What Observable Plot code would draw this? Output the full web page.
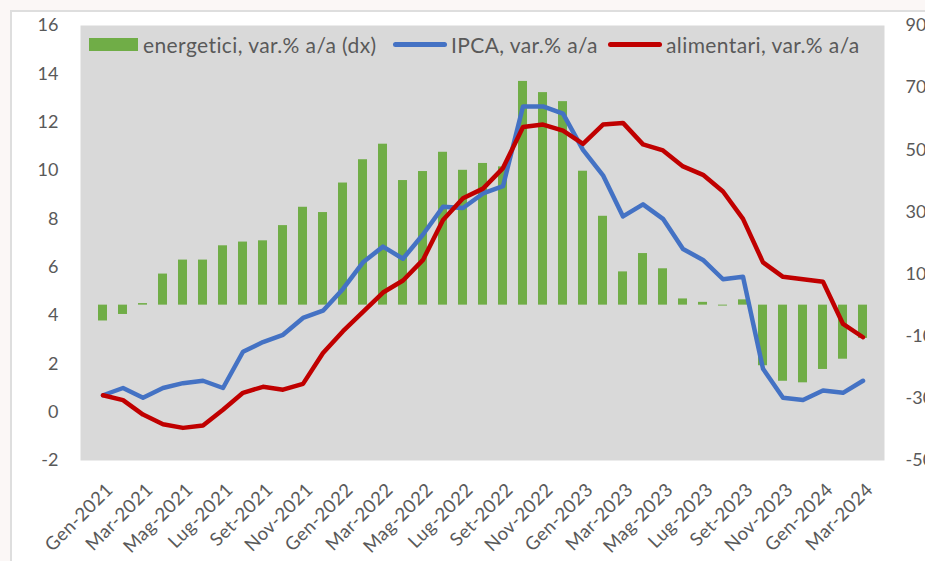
<!DOCTYPE html>
<html>
<head>
<meta charset="utf-8">
<script src="https://cdn.jsdelivr.net/npm/d3@7"></script>
<script src="https://cdn.jsdelivr.net/npm/@observablehq/plot@0.6"></script>
<style>
  html, body { margin: 0; padding: 0; background: #fbf7f6; overflow: hidden; }
  #wrap { position: relative; width: 925px; height: 561px; overflow: hidden; }
  #box { position: absolute; left: 10px; top: 10px; width: 1000px; height: 700px; background: #fff;
         border-top: 2px solid #dedede; border-left: 2px solid #dedede; }
  #chart { position: absolute; left: 0; top: 0; }
  #chart g[aria-label="x-axis tick label"] text { letter-spacing: 0.5px; }
  .lg { position: absolute; font-family: Lato, "Open Sans", sans-serif; font-size: 21px; letter-spacing: 0.4px; color: #595959; white-space: nowrap; line-height: 1; }
  .sw { position: absolute; }
</style>
</head>
<body>
<div id="wrap">
  <div id="box"></div>
  <div id="chart"></div>
  <div id="legend"></div>
</div>
<script>
// ---- data ----
const months = [
  "Gen-2021","Feb-2021","Mar-2021","Apr-2021","Mag-2021","Giu-2021","Lug-2021","Ago-2021","Set-2021","Ott-2021","Nov-2021","Dic-2021",
  "Gen-2022","Feb-2022","Mar-2022","Apr-2022","Mag-2022","Giu-2022","Lug-2022","Ago-2022","Set-2022","Ott-2022","Nov-2022","Dic-2022",
  "Gen-2023","Feb-2023","Mar-2023","Apr-2023","Mag-2023","Giu-2023","Lug-2023","Ago-2023","Set-2023","Ott-2023","Nov-2023","Dic-2023",
  "Gen-2024","Feb-2024","Mar-2024"
];
// IPCA, var.% a/a (left axis)
const ipca = [
  0.7, 1.0, 0.6, 1.0, 1.2, 1.3, 1.0, 2.5, 2.9, 3.2, 3.9, 4.2,
  5.1, 6.2, 6.85, 6.35, 7.35, 8.5, 8.45, 9.05, 9.35, 12.65, 12.65, 12.35,
  10.85, 9.8, 8.1, 8.6, 8.0, 6.75, 6.3, 5.5, 5.6, 1.8, 0.6, 0.5,
  0.9, 0.8, 1.3
];
// alimentari, var.% a/a (left axis)
const alimentari = [
  0.7, 0.5, -0.1, -0.5, -0.65, -0.55, 0.1, 0.8, 1.05, 0.93, 1.17, 2.45,
  3.35, 4.15, 4.95, 5.45, 6.3, 7.95, 8.85, 9.25, 10.1, 11.8, 11.9, 11.65,
  11.1, 11.9, 11.97, 11.08, 10.83, 10.17, 9.82, 9.13, 8.0, 6.2, 5.6, 5.5,
  5.4, 3.65, 3.1
];
// energetici, var.% a/a (right axis, dx)
const energetici = [
  -5.1, -3.0, 0.5, 10.0, 14.5, 14.5, 19.1, 20.3, 20.7, 25.6, 31.5, 29.8,
  39.3, 46.8, 51.8, 40.1, 43.0, 49.2, 43.4, 45.6, 44.5, 72.0, 68.4, 65.5,
  43.1, 28.6, 10.7, 16.6, 11.7, 2.0, 0.9, -0.3, 1.7, -19.5, -24.5, -25.0,
  -20.7, -17.4, -10.7
];
const leftTicks = [-2, 0, 2, 4, 6, 8, 10, 12, 14, 16];
const rightTicks = [-50, -30, -10, 10, 30, 50, 70, 90];
const xTickLabels = months.filter((m, i) => i % 2 === 0);

// ---- dual-axis mapping ----
const L0 = -2, L1 = 16, R0 = -50, R1 = 90;
const toLeft = v => L0 + (v - R0) * (L1 - L0) / (R1 - R0);
const toRight = v => R0 + (v - L0) * (R1 - R0) / (L1 - L0);
const base = toLeft(0);

const data = months.map((m, i) => ({ m, ipca: ipca[i], alim: alimentari[i], en: energetici[i] }));

const textColor = "#595959";
const chart = Plot.plot({
  width: 925,
  height: 561,
  marginLeft: 80,
  marginRight: 41,
  marginTop: 25,
  marginBottom: 101,
  style: { background: "transparent", fontFamily: "Lato, 'Open Sans', sans-serif", fontSize: "18px", color: textColor, overflow: "visible" },
  x: { type: "band", domain: months, paddingInner: 0.56, paddingOuter: 0.28, axis: null },
  y: { domain: [L0, L1], axis: null },
  marks: [
    Plot.frame({ fill: "#d9d9d9", stroke: null }),
    Plot.barY(data, { x: "m", y1: base, y2: d => toLeft(d.en), fill: "#70ad47" }),
    Plot.line(data, { x: "m", y: "ipca", stroke: "#4472c4", strokeWidth: 4.5, strokeLinejoin: "round", strokeLinecap: "round" }),
    Plot.line(data, { x: "m", y: "alim", stroke: "#c00000", strokeWidth: 4.5, strokeLinejoin: "round", strokeLinecap: "round" }),
    Plot.axisY({ anchor: "left", ticks: leftTicks, tickFormat: d => String(d), tickSize: 0, tickPadding: 22, label: null, fontSize: 18, fill: textColor }),
    Plot.axisY({ anchor: "right", ticks: rightTicks.map(toLeft), tickFormat: d => String(Math.round(toRight(d))), tickSize: 0, tickPadding: 21, label: null, fontSize: 18, fill: textColor }),
    Plot.axisX({ anchor: "bottom", ticks: xTickLabels, tickRotate: -45, tickSize: 0, tickPadding: 26, dx: 7, label: null, fontSize: 18.5, fill: textColor })
  ]
});
document.getElementById("chart").appendChild(chart);

// ---- legend (HTML overlay) ----
const legendItems = [
  { label: "energetici, var.% a/a (dx)", color: "#70ad47", kind: "bar", sx: 89, tx: 143 },
  { label: "IPCA, var.% a/a", color: "#4472c4", kind: "line", sx: 393, tx: 451 },
  { label: "alimentari, var.% a/a", color: "#c00000", kind: "line", sx: 608, tx: 666 }
];
const lg = document.getElementById("legend");
for (const it of legendItems) {
  const sw = document.createElement("div");
  sw.className = "sw";
  if (it.kind === "bar") {
    Object.assign(sw.style, { left: it.sx + "px", top: "38px", width: "49px", height: "13px", background: it.color });
  } else {
    Object.assign(sw.style, { left: it.sx + "px", top: "42px", width: "54px", height: "5px", background: it.color, borderRadius: "3px" });
  }
  lg.appendChild(sw);
  const t = document.createElement("div");
  t.className = "lg";
  t.textContent = it.label;
  Object.assign(t.style, { left: it.tx + "px", top: "34px" });
  lg.appendChild(t);
}
</script>
</body>
</html>
